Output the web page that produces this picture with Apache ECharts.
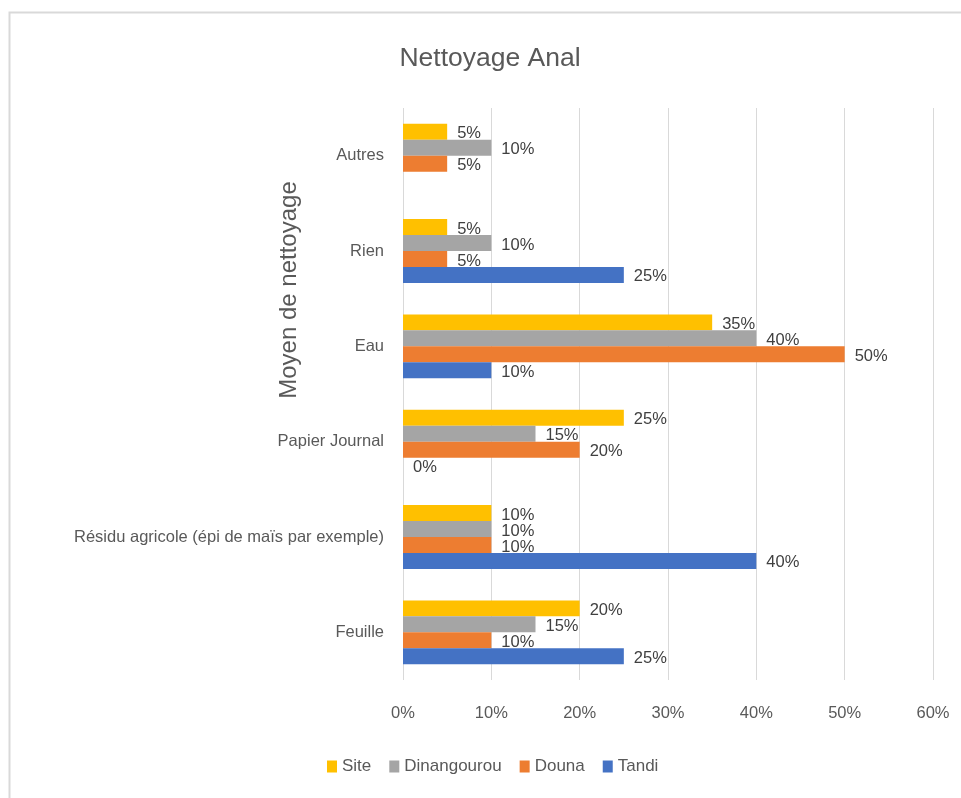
<!DOCTYPE html>
<html>
<head>
<meta charset="utf-8">
<script src="https://cdn.jsdelivr.net/npm/echarts@6/dist/echarts.min.js"></script>
<style>
html,body{margin:0;padding:0;background:#fff;}
#chart{width:961px;height:798px;}
</style>
</head>
<body>
<div id="chart"></div>
<script>
const titleText = 'Nettoyage Anal';
const axisName = 'Moyen de nettoyage';
const categories = ['Feuille', 'Résidu agricole (épi de maïs par exemple)', 'Papier Journal', 'Eau', 'Rien', 'Autres'];
const seriesNames = ['Site', 'Dinangourou', 'Douna', 'Tandi'];
const siteValues = [20, 10, 25, 35, 5, 5];
const dinangourouValues = [15, 10, 15, 40, 10, 10];
const dounaValues = [10, 10, 20, 50, 5, 5];
const tandiValues = [25, 40, 0, 10, 25, null];
const xTicks = [0, 10, 20, 30, 40, 50, 60];
const colors = ['#FFC000', '#A5A5A5', '#ED7D31', '#4472C4'];

const FONT = '"Liberation Sans", Arial, sans-serif';
const valuesList = [siteValues, dinangourouValues, dounaValues, tandiValues];

const chart = echarts.init(document.getElementById('chart'), null, {renderer: 'canvas'});
const option = {
  backgroundColor: '#ffffff',
  animation: false,
  textStyle: {fontFamily: FONT},
  title: {
    text: titleText,
    left: 485,
    top: 40,
    textAlign: 'center',
    textStyle: {fontFamily: FONT, fontSize: 26.5, fontWeight: 'normal', color: '#595959'}
  },
  graphic: [
    {type: 'rect', left: 7, top: 10, shape: {x: 0, y: 0, width: 1000, height: 1000}, style: {fill: 'none', stroke: '#d9d9d9', lineWidth: 2}, silent: true},
    {type: 'text', x: 289, y: 290, rotation: Math.PI / 2, style: {text: axisName, font: '24px "Liberation Sans", Arial, sans-serif', fill: '#595959', textAlign: 'center', textVerticalAlign: 'middle'}}
  ],
  legend: {
    data: seriesNames,
    left: 327,
    top: 758,
    padding: 0,
    itemGap: 18,
    itemWidth: 10,
    itemHeight: 12,
    icon: 'rect',
    textStyle: {fontFamily: FONT, fontSize: 17, color: '#595959'}
  },
  grid: {left: 403, right: 28, top: 108, bottom: 118, containLabel: false},
  xAxis: {
    type: 'value',
    min: xTicks[0],
    max: xTicks[xTicks.length - 1],
    interval: 10,
    axisLine: {show: false},
    axisTick: {show: false},
    axisLabel: {formatter: '{value}%', fontFamily: FONT, fontSize: 16.5, color: '#595959', margin: 25},
    splitLine: {show: true, lineStyle: {color: '#d9d9d9', width: 1}}
  },
  yAxis: {
    type: 'category',
    data: categories,
    axisLine: {show: false},
    axisTick: {show: false},
    axisLabel: {fontFamily: FONT, fontSize: 16.5, color: '#595959', margin: 19, padding: [4, 0, 0, 0]},
    splitLine: {show: false}
  },
  series: seriesNames.map((name, i) => ({
    name: name,
    type: 'bar',
    data: valuesList[i],
    barGap: '0%',
    barCategoryGap: '33%',
    itemStyle: {color: colors[i]},
    label: {
      show: true,
      position: 'right',
      distance: 10,
      offset: [0, 2],
      formatter: p => (p.value == null ? '' : p.value + '%'),
      fontFamily: FONT,
      fontSize: 16.5,
      color: '#404040'
    }
  }))
};
chart.setOption(option);
</script>
</body>
</html>
